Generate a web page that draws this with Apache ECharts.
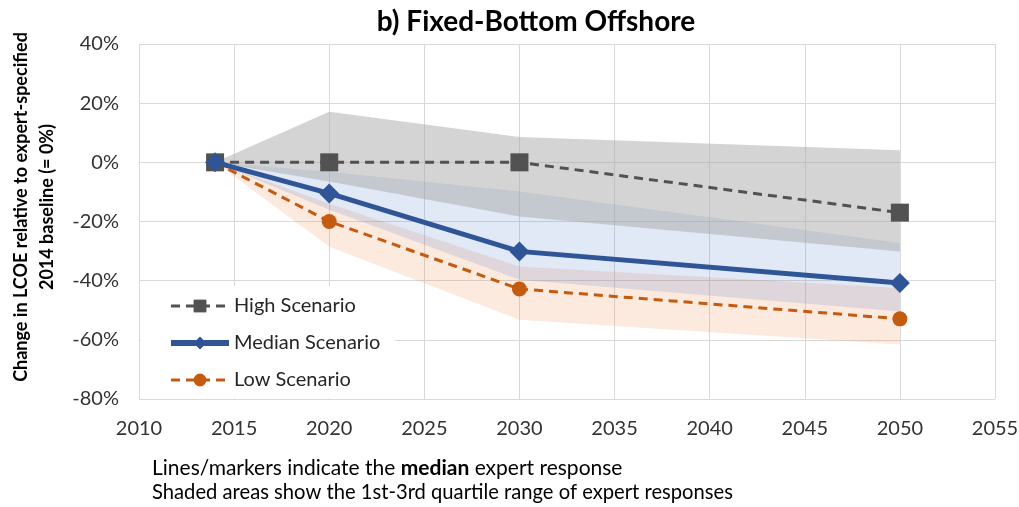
<!DOCTYPE html>
<html>
<head>
<meta charset="utf-8">
<script src="https://cdn.jsdelivr.net/npm/echarts@6/dist/echarts.min.js"></script>
<style>
    html, body { margin: 0; padding: 0; background: #fff; }
    #chart { width: 1019px; height: 507px; }
</style>
</head>
<body>
<div id="chart"></div>
<script>
    // years with expert answers
    const years = [2014, 2020, 2030, 2050];

    // median expert response, % change vs 2014
    const highMedian = [0, 0, 0, -17];
    const medianMedian = [0, -10.5, -30.1, -40.8];
    const lowMedian = [0, -20.0, -42.8, -52.9];

    // 1st / 3rd quartile of responses
    const highQ1 = [0, -6.5, -18.3, -30.1];
    const highQ3 = [0, 17.1, 8.6, 4.1];
    const medianQ1 = [0, -16.0, -39.7, -50.4];
    const medianQ3 = [0, -3.2, -9.9, -27.3];
    const lowQ1 = [0, -28.5, -53.2, -61.6];
    const lowQ3 = [0, -14.0, -35.2, -42.5];

    const font = 'Lato';
    const chart = echarts.init(document.getElementById('chart'));

    function pairs(values) {
        return years.map((y, i) => [y, values[i]]);
    }

    // shaded quartile band drawn as one polygon through the axes
    function band(id, q1, q3, color) {
        return {
            name: id,
            type: 'custom',
            silent: true,
            clip: true,
            data: years.map((y, i) => [y, q1[i], q3[i]]),
            encode: { x: 0, y: [1, 2] },
            renderItem: function (params, api) {
                if (params.dataIndex !== 0) return null;
                const pts = [];
                for (let i = 0; i < years.length; i++) {
                    pts.push(api.coord([years[i], q3[i]]));
                }
                for (let i = years.length - 1; i >= 0; i--) {
                    pts.push(api.coord([years[i], q1[i]]));
                }
                return {
                    type: 'polygon',
                    shape: { points: pts },
                    style: { fill: color }
                };
            }
        };
    }

    chart.setOption({
        animation: false,
        grid: {
            left: 139,
            right: 24,
            top: 44,
            bottom: 108,
            outerBoundsMode: 'none'
        },
        legend: {
            data: [
                { name: 'High Scenario', lineStyle: { width: 3 } },
                { name: 'Median Scenario', lineStyle: { width: 6 } },
                { name: 'Low Scenario', lineStyle: { width: 3 } }
            ],
            orient: 'vertical',
            left: 141,
            top: 286,
            padding: [10, 15, 8, 27],
            itemWidth: 58,
            itemHeight: 16,
            itemGap: 17,
            backgroundColor: '#fff',
            textStyle: { fontFamily: font, fontSize: 20, color: '#262626' }
        },
        xAxis: {
            type: 'value',
            min: 2010,
            max: 2055,
            interval: 5,
            axisLine: { lineStyle: { color: '#d9d9d9' } },
            axisTick: { show: false },
            splitLine: { lineStyle: { color: '#d9d9d9' } },
            axisLabel: {
                margin: 20,
                fontFamily: font,
                fontSize: 20,
                color: '#333',
                formatter: v => String(v)
            }
        },
        yAxis: {
            type: 'value',
            min: -80,
            max: 40,
            interval: 20,
            axisLine: { show: true, lineStyle: { color: '#d9d9d9' } },
            axisTick: { show: false },
            splitLine: { lineStyle: { color: '#d9d9d9' } },
            axisLabel: {
                margin: 20,
                fontFamily: font,
                fontSize: 20,
                color: '#333',
                formatter: '{value}%'
            }
        },
        graphic: [
            {
                type: 'text',
                x: 536,
                y: 22,
                style: {
                    text: 'b) Fixed-Bottom Offshore',
                    fontFamily: font,
                    fontSize: 28,
                    fontWeight: 'bold',
                    fill: '#000',
                    align: 'center',
                    verticalAlign: 'middle'
                }
            },
            {
                type: 'text',
                x: 34,
                y: 207,
                rotation: Math.PI / 2,
                style: {
                    text: 'Change in LCOE relative to expert-specified\n2014 baseline (= 0%)',
                    fontFamily: font,
                    fontSize: 18,
                    fontWeight: 'bold',
                    lineHeight: 26,
                    fill: '#000',
                    align: 'center',
                    verticalAlign: 'middle'
                }
            },
            {
                type: 'text',
                x: 152,
                y: 468,
                style: {
                    text: 'Lines/markers indicate the {b|median} expert response',
                    fontFamily: font,
                    fontSize: 21,
                    fill: '#000',
                    verticalAlign: 'middle',
                    rich: {
                        b: { fontFamily: font, fontSize: 21, fontWeight: 'bold', fill: '#000' }
                    }
                }
            },
            {
                type: 'text',
                x: 152,
                y: 492,
                style: {
                    text: 'Shaded areas show the 1st-3rd quartile range of expert responses',
                    fontFamily: font,
                    fontSize: 20.2,
                    fill: '#000',
                    verticalAlign: 'middle'
                }
            }
        ],
        series: [
            band('low', lowQ1, lowQ3, 'rgba(237,125,49,0.16)'),
            band('median', medianQ1, medianQ3, 'rgba(68,114,196,0.16)'),
            band('high', highQ1, highQ3, 'rgba(165,165,165,0.48)'),
            {
                name: 'High Scenario',
                type: 'line',
                data: pairs(highMedian),
                symbol: 'rect',
                symbolSize: 18,
                itemStyle: { color: '#525252' },
                lineStyle: { color: '#525252', width: 3, type: [9, 6] }
            },
            {
                name: 'Median Scenario',
                type: 'line',
                data: pairs(medianMedian),
                symbol: 'diamond',
                symbolSize: 20,
                itemStyle: { color: '#2f5597' },
                lineStyle: { color: '#2f5597', width: 5 }
            },
            {
                name: 'Low Scenario',
                type: 'line',
                data: pairs(lowMedian),
                symbol: 'circle',
                // no marker on the shared 2014 baseline point
                symbolSize: (v, p) => (p.dataIndex === 0 ? 0 : 15),
                itemStyle: { color: '#c55a11' },
                lineStyle: { color: '#c55a11', width: 3, type: [9, 6] }
            }
        ]
    });
</script>
</body>
</html>
